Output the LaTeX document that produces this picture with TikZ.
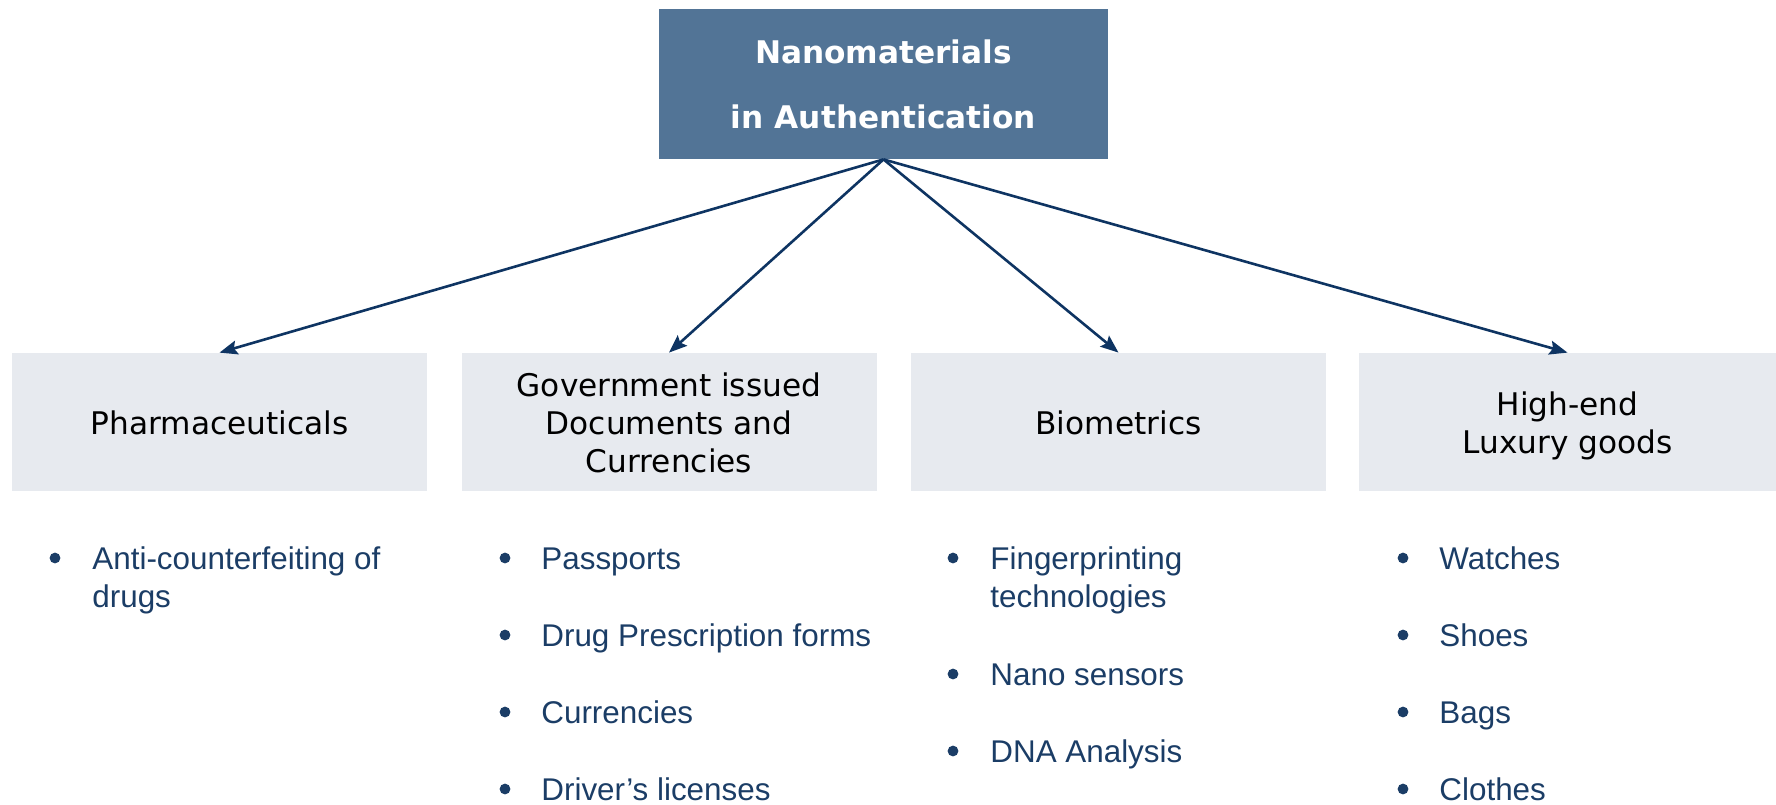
\documentclass[tikz,border=0pt]{standalone}
\usepackage{fontspec}
\setmainfont{Liberation Sans}
\newfontfamily\dejavu{DejaVu Sans}
\usetikzlibrary{arrows.meta}
\definecolor{topfill}{HTML}{527496}
\definecolor{boxfill}{HTML}{E7EAEF}
\definecolor{arrowcol}{HTML}{0E3462}
\definecolor{itemcol}{HTML}{1B3D66}
\begin{document}
\begin{tikzpicture}[x=0.5pt,y=-0.5pt,
  topbox/.style={fill=topfill, draw=none, minimum width=224.5pt, minimum height=75pt, inner sep=0pt},
  catbox/.style={fill=boxfill, draw=none, minimum width=207.5pt, minimum height=69pt, inner sep=0pt},
  toptext/.style={anchor=base, inner sep=0pt, text=white, font=\dejavu\bfseries\fontsize{15.6}{19}\selectfont},
  cattext/.style={anchor=base, inner sep=0pt, text=black, font=\dejavu\fontsize{15.6}{19}\selectfont},
  item/.style={anchor=base west, inner sep=0pt, text=itemcol, font=\fontsize{15.7}{19}\selectfont},
  dot/.style={circle, fill=itemcol, draw=none, inner sep=0pt, minimum size=5.4pt},
  conn/.style={draw=arrowcol, line width=1.3pt, -{Stealth[length=9pt,width=7pt,inset=1.5pt]}}]
\useasboundingbox (0,0) rectangle (1776,804);

% top node
\node[topbox] (top) at (883.5,84) {};
\node[toptext] (t1) at (883.5,63) {Nanomaterials};
\node[toptext] (t2) at (883.5,128) {in Authentication};

% category boxes
\node[catbox] (b1) at (219.5,422) {};
\node[catbox] (b2) at (669,422) {};
\node[catbox] (b3) at (1118.5,422) {};
\node[catbox, minimum width=208.5pt] (b4) at (1567.5,422) {};

\node[cattext] (h1) at (219.5,434) {Pharmaceuticals};
\node[cattext] (h2a) at (669,396) {Government issued};
\node[cattext] (h2b) at (669,434) {Documents and};
\node[cattext] (h2c) at (669,472) {Currencies};
\node[cattext] (h3) at (1118.5,434) {Biometrics};
\node[cattext] (h4a) at (1567.5,415) {High-end};
\node[cattext] (h4b) at (1567.5,453) {Luxury goods};

% connectors
\draw[conn] (top.south) -- (b1.north);
\draw[conn] (top.south) -- (b2.north);
\draw[conn] (top.south) -- (b3.north);
\draw[conn] (top.south) -- (b4.north);

% column 1
\node[dot] (d1a) at (55,558) {};
\node[item] (i1a) at (92,569) {Anti-counterfeiting of};
\node[item] (i1b) at (92,607) {drugs};

% column 2
\node[dot] (d2a) at (505,558) {};
\node[item] (i2a) at (541,569) {Passports};
\node[dot] (d2b) at (505,635) {};
\node[item] (i2b) at (541,646) {Drug Prescription forms};
\node[dot] (d2c) at (505,712) {};
\node[item] (i2c) at (541,723) {Currencies};
\node[dot] (d2d) at (505,789) {};
\node[item] (i2d) at (541,800) {Driver’s licenses};

% column 3
\node[dot] (d3a) at (953,558) {};
\node[item] (i3a) at (990,569) {Fingerprinting};
\node[item] (i3b) at (990,607) {technologies};
\node[dot] (d3b) at (953,674) {};
\node[item] (i3c) at (990,685) {Nano sensors};
\node[dot] (d3c) at (953,751) {};
\node[item] (i3d) at (990,762) {DNA Analysis};

% column 4
\node[dot] (d4a) at (1403,558) {};
\node[item] (i4a) at (1439,569) {Watches};
\node[dot] (d4b) at (1403,635) {};
\node[item] (i4b) at (1439,646) {Shoes};
\node[dot] (d4c) at (1403,712) {};
\node[item] (i4c) at (1439,723) {Bags};
\node[dot] (d4d) at (1403,789) {};
\node[item] (i4d) at (1439,800) {Clothes};
\end{tikzpicture}
\end{document}
